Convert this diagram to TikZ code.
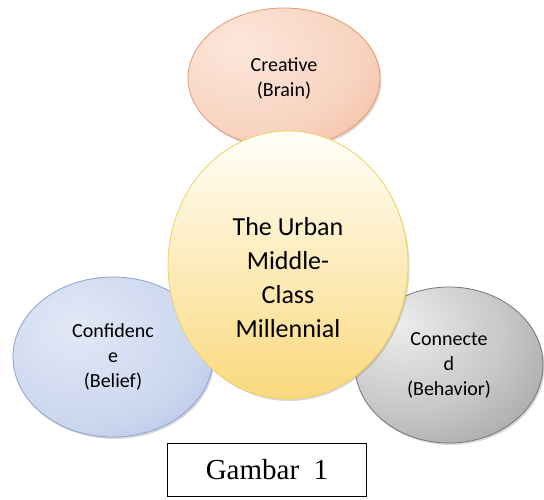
\documentclass[tikz,border=0pt]{standalone}
\usepackage{fontspec}
\setmainfont{Carlito}
\newfontfamily\gambarfont{Liberation Serif}
\usetikzlibrary{shapes.geometric,shadows}

\definecolor{brainin}{HTML}{FCE7DC}
\definecolor{brainout}{HTML}{EFA47D}
\definecolor{brainline}{HTML}{E39A70}
\definecolor{beliefin}{HTML}{E2E8F6}
\definecolor{beliefout}{HTML}{98AEDC}
\definecolor{beliefline}{HTML}{8AA2D2}
\definecolor{behavin}{HTML}{EDEDED}
\definecolor{behavout}{HTML}{838383}
\definecolor{behavline}{HTML}{767676}
\definecolor{urbantop}{HTML}{FFFEF8}
\definecolor{urbanbot}{HTML}{FAD97E}
\definecolor{urbanline}{HTML}{F0D25C}

\pgfdeclareradialshading{brainshade}{\pgfpoint{-12bp}{12bp}}{color(0bp)=(brainin); color(28bp)=(brainin!70!brainout); color(60bp)=(brainout); color(100bp)=(brainout)}
\pgfdeclareradialshading{beliefshade}{\pgfpoint{-10bp}{10bp}}{color(0bp)=(beliefin); color(28bp)=(beliefin!70!beliefout); color(60bp)=(beliefout); color(100bp)=(beliefout)}
\pgfdeclareradialshading{behavshade}{\pgfpoint{-14bp}{14bp}}{color(0bp)=(behavin); color(25bp)=(behavin!65!behavout); color(60bp)=(behavout); color(100bp)=(behavout)}

\begin{document}
\begin{tikzpicture}[x=1pt, y=-1pt,
bubble/.style ={ellipse, draw, inner sep=0pt, align=center, line width=0.8pt,
  font=\fontsize{20}{25}\selectfont,
  drop shadow={opacity=0.3, shadow xshift=1.5pt, shadow yshift=-2pt}},
core/.style ={bubble, font=\fontsize{26}{34}\selectfont, text height=146pt}]
\useasboundingbox (0,0) rectangle (544,500);
\node[bubble, shading=brainshade, draw=brainline,
  minimum width=192pt, minimum height=140pt] (brain) at (284,78) {Creative\\(Brain)};
\node[bubble, shading=beliefshade, draw=beliefline,
  minimum width=200pt, minimum height=160pt] (belief) at (113,357) {Confidenc\\e\\(Belief)};
\node[bubble, shading=behavshade, draw=behavline,
  minimum width=188pt, minimum height=156pt] (behav) at (449,365) {Connecte\\d\\(Behavior)};
\node[core, top color=urbantop, bottom color=urbanbot, draw=urbanline,
  minimum width=240pt, minimum height=268pt] (urban) at (288,265) {The Urban\\Middle-\\Class\\Millennial};
\node[draw, line width=1.2pt, minimum width=199pt, minimum height=53pt,
  font=\gambarfont\fontsize{29}{34}\selectfont] (gambar) at (267,470) {Gambar~~1};
\end{tikzpicture}
\end{document}
